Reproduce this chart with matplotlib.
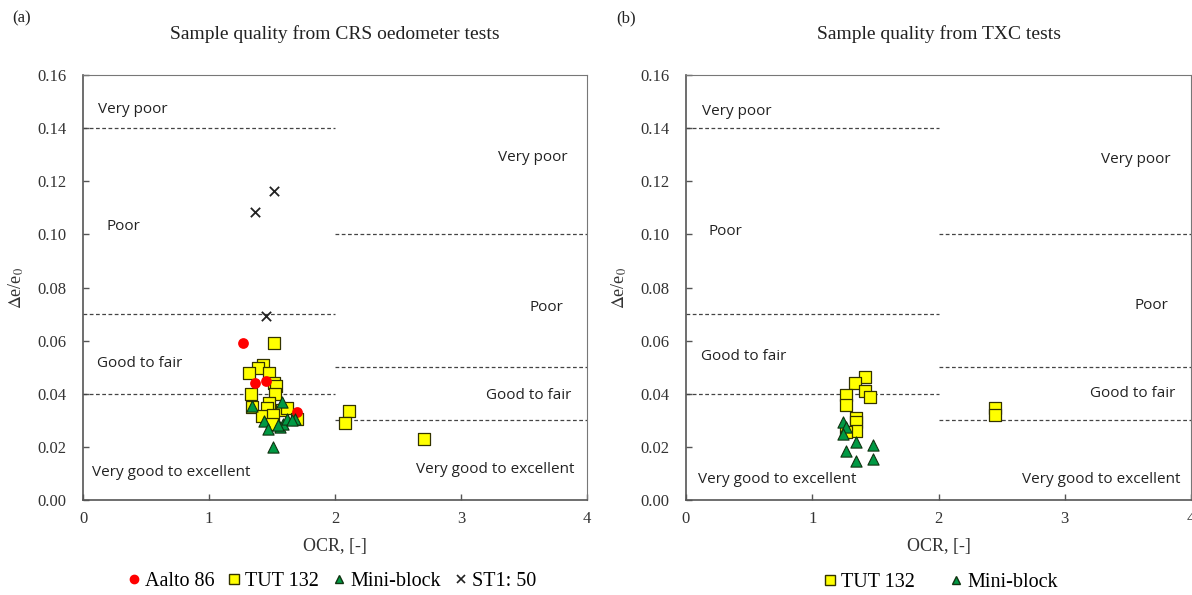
import matplotlib.pyplot as plt
from matplotlib.lines import Line2D

plt.rcParams["mathtext.fontset"] = "stix"

# panel (a): CRS oedometer tests
aalto_ocr = [1.27, 1.365, 1.45, 1.70]
aalto_de = [0.059, 0.044, 0.0448, 0.033]

tut_a_ocr = [1.516, 1.43, 1.39, 1.32, 1.48, 1.516, 1.53, 1.33, 1.52, 1.34,
             1.48, 1.46, 1.58, 1.62, 1.42, 1.51, 1.50, 1.70, 2.11, 2.08, 2.71]
tut_a_de = [0.059, 0.051, 0.0497, 0.0478, 0.048, 0.044, 0.043, 0.040, 0.040, 0.035,
            0.0365, 0.0346, 0.034, 0.0346, 0.0316, 0.032, 0.0286, 0.0305, 0.0335, 0.029, 0.0229]

mini_a_ocr = [1.34, 1.58, 1.44, 1.47, 1.56, 1.59, 1.62, 1.68, 1.66, 1.51, 1.55]
mini_a_de = [0.0354, 0.037, 0.0297, 0.0267, 0.0275, 0.0286, 0.0305, 0.0305, 0.030, 0.020, 0.0282]

st1_ocr = [1.365, 1.516, 1.452]
st1_de = [0.1084, 0.1163, 0.0693]

# panel (b): TXC tests
tut_b_ocr = [1.417, 1.34, 1.27, 1.27, 1.42, 1.46, 1.35, 1.35, 1.35, 1.27, 2.45, 2.45]
tut_b_de = [0.0463, 0.044, 0.0395, 0.0358, 0.041, 0.0388, 0.0309, 0.0294, 0.026, 0.0256, 0.0346, 0.032]

mini_b_ocr = [1.24, 1.27, 1.24, 1.35, 1.48, 1.27, 1.35, 1.48]
mini_b_de = [0.0294, 0.0275, 0.0248, 0.022, 0.0207, 0.0185, 0.0147, 0.0154]

# quality class boundaries (OCR 0-2 and OCR 2-4)
low_bounds = [0.04, 0.07, 0.14]
high_bounds = [0.03, 0.05, 0.10]

serif = "Liberation Serif"
sans = "Open Sans"

fig = plt.figure(figsize=(11.92, 5.95), dpi=100)
ax1 = fig.add_axes([83 / 1192, 1 - 500 / 595, 504 / 1192, 425 / 595])
ax2 = fig.add_axes([686 / 1192, 1 - 500 / 595, 505 / 1192, 425 / 595])


def frame(ax, title):
    ax.set_xlim(0, 4)
    ax.set_ylim(0, 0.16)
    ax.set_xticks([0, 1, 2, 3, 4])
    ax.set_yticks([i * 0.02 for i in range(9)])
    ax.set_yticklabels(["%.2f" % (i * 0.02) for i in range(9)])
    for s in ["left", "bottom"]:
        ax.spines[s].set_color("#555555")
        ax.spines[s].set_linewidth(1.2)
    for s in ["top", "right"]:
        ax.spines[s].set_color("#777777")
        ax.spines[s].set_linewidth(0.8)
    ax.tick_params(axis="x", direction="in", length=4, width=1, colors="#555555",
                   labelcolor="#333333", labelsize=12, pad=8)
    ax.tick_params(axis="y", direction="in", length=4, width=1, colors="#555555",
                   labelcolor="#333333", labelsize=12, pad=12)
    for lab in ax.get_xticklabels() + ax.get_yticklabels():
        lab.set_family(serif)
    ax.set_xlabel("OCR, [-]", family=serif, fontsize=13, color="#333333", labelpad=8)
    ax.set_ylabel(r"$\Delta$e/e$_0$", family=serif, fontsize=13, color="#333333", labelpad=8)
    ax.set_title(title, family=serif, fontsize=14, color="#222222", pad=26)
    for b in low_bounds:
        ax.plot([0, 2], [b, b], ls=(0, (3, 2)), color="#444444", lw=0.9)
    for b in high_bounds:
        ax.plot([2, 4], [b, b], ls=(0, (3, 2)), color="#444444", lw=0.9)


frame(ax1, "Sample quality from CRS oedometer tests")
frame(ax2, "Sample quality from TXC tests")
fig.text(12 / 1192, 1 - 18 / 595, "(a)", family=serif, fontsize=12, color="#222222", va="center")
fig.text(616 / 1192, 1 - 18 / 595, "(b)", family=serif, fontsize=12, color="#222222", va="center")

tkw = dict(family=sans, fontsize=11, color="#222222", va="center")
ax1.text(0.12, 0.147, "Very poor", **tkw)
ax1.text(0.19, 0.103, "Poor", **tkw)
ax1.text(0.11, 0.0515, "Good to fair", **tkw)
ax1.text(0.07, 0.0105, "Very good to excellent", **tkw)
ax1.text(3.29, 0.129, "Very poor", **tkw)
ax1.text(3.54, 0.0725, "Poor", **tkw)
ax1.text(3.20, 0.0395, "Good to fair", **tkw)
ax1.text(2.64, 0.0115, "Very good to excellent", **tkw)

ax2.text(0.13, 0.1462, "Very poor", **tkw)
ax2.text(0.175, 0.1012, "Poor", **tkw)
ax2.text(0.12, 0.0542, "Good to fair", **tkw)
ax2.text(0.095, 0.0077, "Very good to excellent", **tkw)
ax2.text(3.29, 0.1282, "Very poor", **tkw)
ax2.text(3.555, 0.0732, "Poor", **tkw)
ax2.text(3.20, 0.0402, "Good to fair", **tkw)
ax2.text(2.66, 0.0077, "Very good to excellent", **tkw)

sq = dict(marker="s", s=80, facecolor="#ffff00", edgecolor="#333300", linewidth=0.9, zorder=3)
tri = dict(marker="^", s=65, facecolor="#009944", edgecolor="#113311", linewidth=0.8, zorder=4)

ax1.scatter(tut_a_ocr, tut_a_de, **sq)
ax1.scatter(aalto_ocr, aalto_de, marker="o", s=60, color="#ff0000", zorder=3.5, linewidths=0)
ax1.scatter(mini_a_ocr, mini_a_de, **tri)
ax1.scatter(st1_ocr, st1_de, marker="x", s=45, color="#222222", linewidths=1.3, zorder=4)

ax2.scatter(tut_b_ocr, tut_b_de, **sq)
ax2.scatter(mini_b_ocr, mini_b_de, **tri)

h_aalto = Line2D([], [], ls="none", marker="o", ms=6, mfc="#ff0000", mec="#ff0000")
h_tut = Line2D([], [], ls="none", marker="s", ms=7, mfc="#ffff00", mec="#333300")
h_mini = Line2D([], [], ls="none", marker="^", ms=6, mfc="#009944", mec="#113311")
h_st1 = Line2D([], [], ls="none", marker="x", ms=6, color="#222222", mew=1.2)

lkw = dict(frameon=False, handletextpad=0.25, borderaxespad=0,
           prop={"family": serif, "size": 14.5}, handlelength=0.6)
fig.legend([h_aalto, h_tut, h_mini, h_st1], ["Aalto 86", "TUT 132", "Mini-block", "ST1: 50"],
           loc="center", bbox_to_anchor=(332 / 1192, 1 - 581 / 595), ncol=4, columnspacing=0.7, **lkw)
fig.legend([h_tut, h_mini], ["TUT 132", "Mini-block"],
           loc="center", bbox_to_anchor=(941 / 1192, 1 - 582 / 595), ncol=2, columnspacing=1.75, **lkw)

fig.savefig("out.png", dpi=100, facecolor="white")
